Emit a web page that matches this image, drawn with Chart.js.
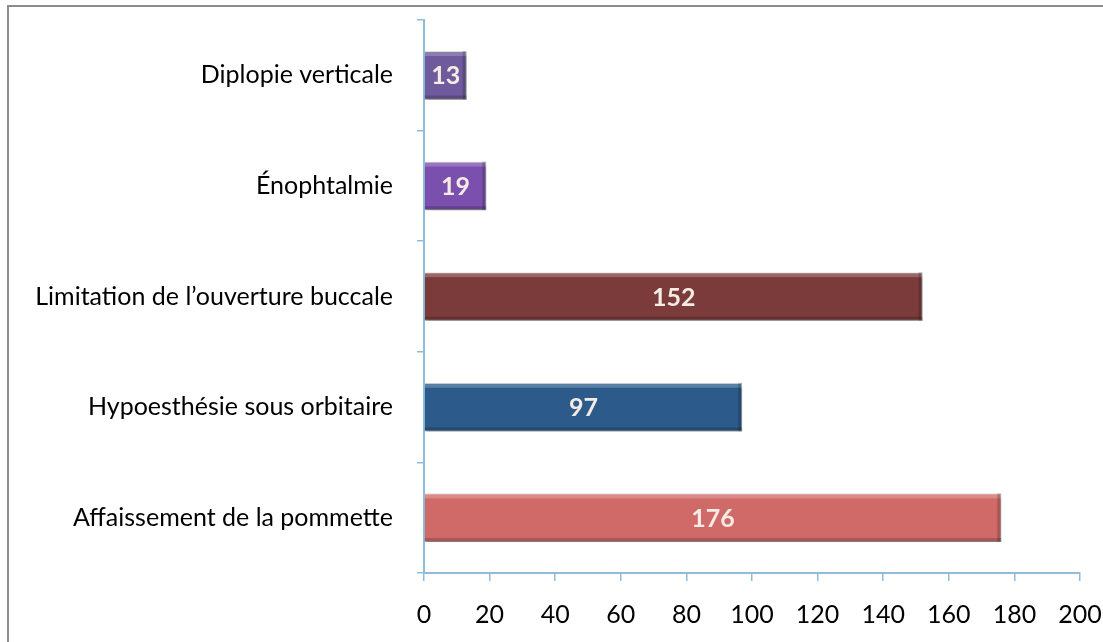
<!DOCTYPE html>
<html>
<head>
<meta charset="utf-8">
<script src="https://cdn.jsdelivr.net/npm/chart.js@4"></script>
<style>
body { margin: 0; background: #fff; }
#wrap { position: relative; width: 1103px; height: 642px; overflow: hidden; }
#frame { position: absolute; left: 7px; top: 5px; width: 1120px; height: 660px; border: 2px solid #8c8c8c; }
canvas { position: absolute; left: 0; top: 0; }
</style>
</head>
<body>
<div id="wrap">
  <div id="frame"></div>
  <canvas id="myChart" width="1103" height="642"></canvas>
</div>
<script>
const categories = [
    'Diplopie verticale',
    'Énophtalmie',
    'Limitation de l\u2019ouverture buccale',
    'Hypoesthésie sous orbitaire',
    'Affaissement de la pommette'
];
const values = [13, 19, 152, 97, 176];
const barColors = ['#6e5a9d', '#7a4fae', '#7a3b3a', '#2c5b8b', '#cf6a68'];
const xTicks = [0, 20, 40, 60, 80, 100, 120, 140, 160, 180, 200];

const axisColor = '#8fbcd9';

// shadow under bars
const shadowPlugin = {
    id: 'barShadow',
    beforeDatasetsDraw(chart) {
        const c = chart.ctx;
        c.save();
        c.shadowColor = 'rgba(0,0,0,0.35)';
        c.shadowBlur = 4;
        c.shadowOffsetX = 1;
        c.shadowOffsetY = 3;
    },
    afterDatasetsDraw(chart) {
        chart.ctx.restore();
    }
};

// bevel + value labels
const labelPlugin = {
    id: 'barLabels',
    afterDatasetsDraw(chart) {
        const c = chart.ctx;
        const meta = chart.getDatasetMeta(0);
        meta.data.forEach((bar, i) => {
            const left = bar.base, right = bar.x;
            const top = bar.y - bar.height / 2, bottom = bar.y + bar.height / 2;
            c.save();
            c.fillStyle = 'rgba(255,255,255,0.22)';
            c.fillRect(left, top, right - left, 5);
            c.fillStyle = 'rgba(0,0,0,0.18)';
            c.fillRect(left, bottom - 4, right - left, 4);
            c.fillRect(right - 4, top, 4, bottom - top);
            c.fillStyle = '#f4ece4';
            c.font = 'bold 25px Lato';
            c.textAlign = 'center';
            c.textBaseline = 'middle';
            c.fillText(values[i], (left + right) / 2, bar.y + 1);
            c.restore();
        });
    }
};

const ctx = document.getElementById('myChart').getContext('2d');

new Chart(ctx, {
    type: 'bar',
    data: {
        labels: categories,
        datasets: [{
            data: values,
            backgroundColor: barColors,
            borderColor: 'rgba(0,0,0,0.15)',
            borderWidth: 1,
            barPercentage: 0.88,
            categoryPercentage: 0.5
        }]
    },
    options: {
        indexAxis: 'y',
        responsive: false,
        animation: false,
        layout: { padding: { top: 20, right: 23, left: 0, bottom: 0 } },
        plugins: {
            legend: { display: false },
            tooltip: { enabled: false }
        },
        scales: {
            x: {
                min: 0,
                max: 200,
                afterBuildTicks(scale) {
                    scale.ticks = xTicks.map(v => ({ value: v }));
                },
                afterFit(scale) {
                    scale.height = 69;
                    scale.paddingLeft = 0;
                    scale.paddingRight = 0;
                },
                border: { color: axisColor, width: 2 },
                grid: { drawOnChartArea: false, color: axisColor, tickLength: 8, lineWidth: 1.5 },
                ticks: {
                    color: '#000',
                    padding: 19,
                    font: { family: 'Lato', size: 25 },
                    maxRotation: 0
                }
            },
            y: {
                afterFit(scale) {
                    scale.width = 424;
                    scale.paddingTop = 0;
                    scale.paddingBottom = 0;
                },
                border: { color: axisColor, width: 2 },
                grid: { drawOnChartArea: false, color: axisColor, tickLength: 7, lineWidth: 1.5, offset: true },
                ticks: {
                    color: '#000',
                    padding: 24,
                    font: { family: 'Lato', size: 25 }
                }
            }
        }
    },
    plugins: [shadowPlugin, labelPlugin]
});
</script>
</body>
</html>
